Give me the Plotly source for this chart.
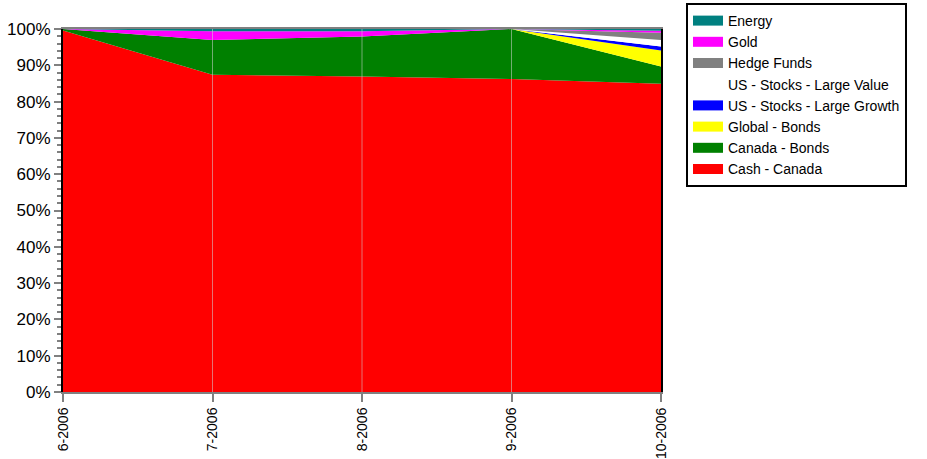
import plotly.graph_objects as go

months = ["6-2006", "7-2006", "8-2006", "9-2006", "10-2006"]

cash_canada = [99.6, 87.4, 86.9, 86.2, 84.9]
canada_bonds = [0.4, 9.6, 11.0, 13.8, 4.8]
global_bonds = [0.0, 0.0, 0.0, 0.0, 4.4]
us_large_growth = [0.0, 0.0, 0.0, 0.0, 1.1]
us_large_value = [0.0, 0.0, 0.0, 0.0, 1.8]
hedge_funds = [0.0, 0.0, 0.0, 0.0, 2.0]
gold = [0.0, 2.4, 1.5, 0.0, 0.5]
energy = [0.0, 0.6, 0.6, 0.0, 0.5]

series = [
    ("Cash - Canada", cash_canada, "#FF0000"),
    ("Canada - Bonds", canada_bonds, "#008000"),
    ("Global - Bonds", global_bonds, "#FFFF00"),
    ("US - Stocks - Large Growth", us_large_growth, "#0000FF"),
    ("US - Stocks - Large Value", us_large_value, "#FFFFFF"),
    ("Hedge Funds", hedge_funds, "#808080"),
    ("Gold", gold, "#FF00FF"),
    ("Energy", energy, "#008080"),
]

fig = go.Figure()
for name, vals, color in series:
    fig.add_trace(go.Scatter(
        x=months, y=vals, name=name, mode="lines",
        stackgroup="one", line=dict(width=0, color=color),
        fillcolor=color, showlegend=False,
    ))
# legend-only entries with rectangular swatches
for name, vals, color in series:
    fig.add_trace(go.Scatter(
        x=[None], y=[None], name=name, mode="lines",
        line=dict(width=10, color=color), showlegend=True,
    ))

for m in months[1:-1]:
    fig.add_shape(type="line", xref="x", yref="paper", x0=m, x1=m, y0=0, y1=1,
                  line=dict(color="rgba(210,210,210,0.55)", width=1), layer="above")

fig.update_layout(
    width=927, height=459,
    margin=dict(l=63, r=266, t=29, b=67, autoexpand=False),
    paper_bgcolor="white", plot_bgcolor="white",
    font=dict(family="Liberation Sans, Arial, sans-serif", color="#000000"),
    showlegend=True,
    legend=dict(
        traceorder="reversed",
        x=1.0418, xanchor="left", y=1.0716, yanchor="top",
        bordercolor="#000000", borderwidth=2,
        font=dict(size=14),
        tracegroupgap=0,
        itemwidth=30,
    ),
    xaxis=dict(
        type="category", range=[0, 4], showgrid=False,
        showline=True, linecolor="#808080", linewidth=2, mirror=True,
        ticks="outside", ticklen=8, tickcolor="#808080", tickwidth=2,
        tickangle=-90, tickfont=dict(size=14),
    ),
    yaxis=dict(
        range=[0, 100], dtick=10, ticksuffix="%", showgrid=False,
        showline=True, linecolor="#000000", linewidth=2, mirror=True,
        ticks="outside", ticklen=7, tickcolor="#808080", tickwidth=2,
        tickfont=dict(size=17),
        minor=dict(dtick=2, ticks="outside", ticklen=4, tickcolor="#808080", tickwidth=2),
        zeroline=False,
    ),
)

fig.write_html("out.html", config={"displayModeBar": False},
               post_script="document.body.style.margin='0';")
